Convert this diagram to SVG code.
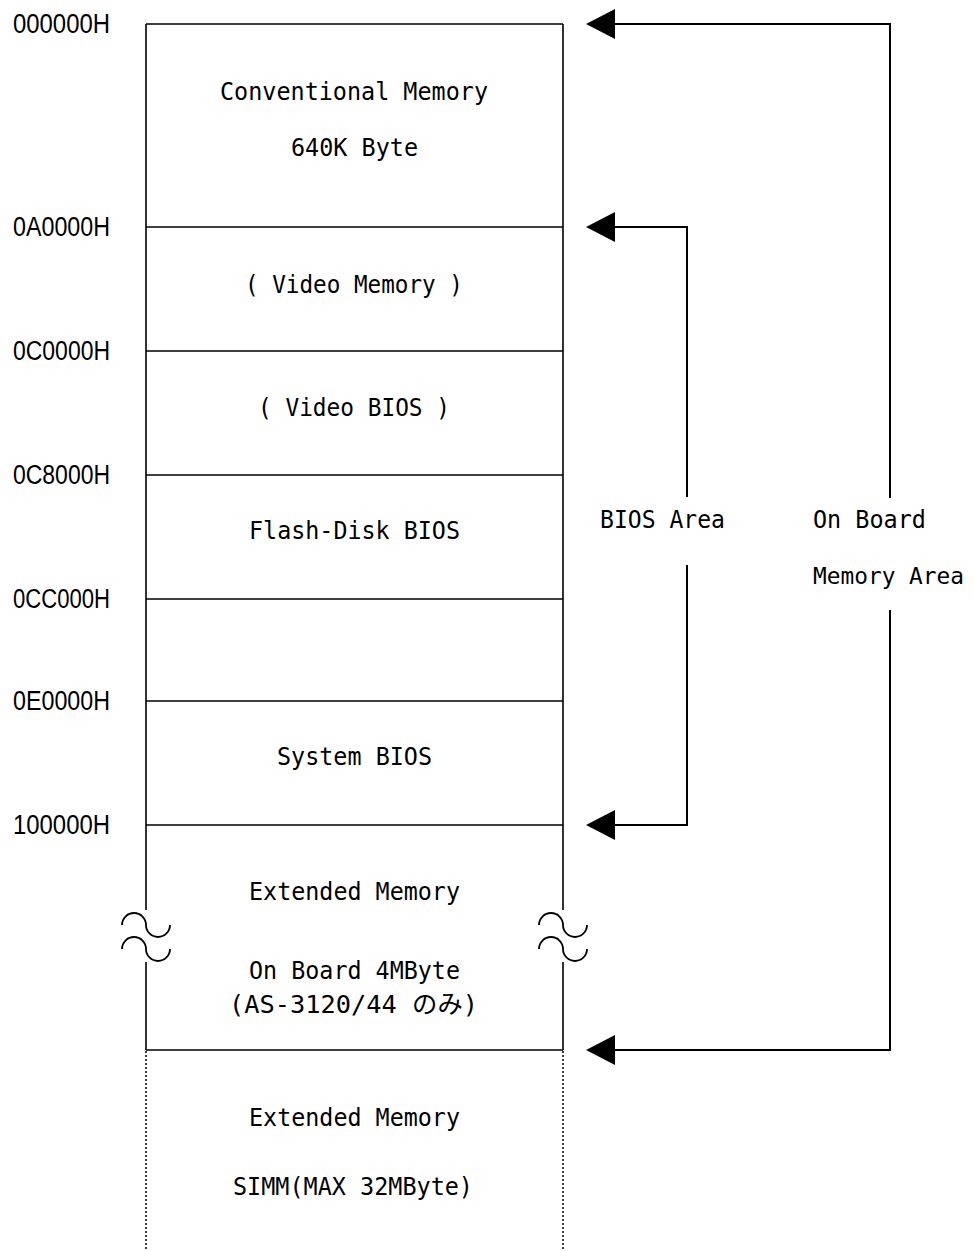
<svg xmlns="http://www.w3.org/2000/svg" width="974" height="1251" viewBox="0 0 974 1251">
<style>
.box{fill:none;stroke:#000;stroke-width:1.6}
.dot{fill:none;stroke:#000;stroke-width:1.5;stroke-dasharray:2 2}
.con{fill:none;stroke:#000;stroke-width:2}
.wave{fill:none;stroke:#000;stroke-width:1.8}
.head{fill:#000}
.addr{font-family:"Liberation Sans",Arial,sans-serif;font-size:27px;fill:#000}
.t{font-family:"DejaVu Sans Mono","Noto Sans CJK JP",monospace;font-size:25.5px;fill:#000}
</style>
<rect width="974" height="1251" fill="#fff"/>
<g id="addresses">
<text class="addr" x="13" y="33" textLength="97" lengthAdjust="spacingAndGlyphs">000000H</text>
<text class="addr" x="13" y="236" textLength="97" lengthAdjust="spacingAndGlyphs">0A0000H</text>
<text class="addr" x="13" y="360" textLength="97" lengthAdjust="spacingAndGlyphs">0C0000H</text>
<text class="addr" x="13" y="484" textLength="97" lengthAdjust="spacingAndGlyphs">0C8000H</text>
<text class="addr" x="13" y="608" textLength="97" lengthAdjust="spacingAndGlyphs">0CC000H</text>
<text class="addr" x="13" y="710" textLength="97" lengthAdjust="spacingAndGlyphs">0E0000H</text>
<text class="addr" x="13" y="834" textLength="97" lengthAdjust="spacingAndGlyphs">100000H</text>
</g>
<g id="memory-map">
<path class="box" d="M146,24 H563 M146,24 V910 M146,962 V1050 M563,24 V910 M563,962 V1050 M146,1050 H563"/>
<path class="box" d="M146,227 H563 M146,351 H563 M146,475 H563 M146,599 H563 M146,701 H563 M146,825 H563"/>
<path class="dot" d="M146,1051 V1251 M563,1051 V1251"/>
<path class="wave" d="M122,925 A12,12 0 0 1 146,925 A12,12 0 0 0 170,925 M122,949 A12,12 0 0 1 146,949 A12,12 0 0 0 170,949"/>
<path class="wave" d="M539,925 A12,12 0 0 1 563,925 A12,12 0 0 0 587,925 M539,949 A12,12 0 0 1 563,949 A12,12 0 0 0 587,949"/>
</g>
<g id="conventional">
<text class="t" x="220" y="100" textLength="268" lengthAdjust="spacingAndGlyphs">Conventional Memory</text>
<text class="t" x="291" y="156" textLength="127" lengthAdjust="spacingAndGlyphs">640K Byte</text>
</g>
<g id="video-memory"><text class="t" x="245" y="293" textLength="218" lengthAdjust="spacingAndGlyphs">( Video Memory )</text></g>
<g id="video-bios"><text class="t" x="258" y="416" textLength="192" lengthAdjust="spacingAndGlyphs">( Video BIOS )</text></g>
<g id="flash-bios"><text class="t" x="249" y="539" textLength="211" lengthAdjust="spacingAndGlyphs">Flash-Disk BIOS</text></g>
<g id="system-bios"><text class="t" x="277" y="765" textLength="155" lengthAdjust="spacingAndGlyphs">System BIOS</text></g>
<g id="extended-onboard">
<text class="t" x="249" y="900" textLength="211" lengthAdjust="spacingAndGlyphs">Extended Memory</text>
<text class="t" x="249" y="979" textLength="211" lengthAdjust="spacingAndGlyphs">On Board 4MByte</text>
<text class="t" x="229" y="1013" textLength="249" lengthAdjust="spacingAndGlyphs">(AS-3120/44 のみ)</text>
</g>
<g id="extended-simm">
<text class="t" x="249" y="1126" textLength="211" lengthAdjust="spacingAndGlyphs">Extended Memory</text>
<text class="t" x="233" y="1195" textLength="240" lengthAdjust="spacingAndGlyphs">SIMM(MAX 32MByte)</text>
</g>
<g id="bios-area-label"><text class="t" x="600" y="528" textLength="125" lengthAdjust="spacingAndGlyphs">BIOS Area</text></g>
<g id="onboard-area-label">
<text class="t" x="813" y="528" textLength="113" lengthAdjust="spacingAndGlyphs">On Board</text>
<text class="t" x="813" y="584" style="font-size:23px" textLength="151" lengthAdjust="spacingAndGlyphs">Memory Area</text>
</g>
<g id="connectors">
<path class="con" d="M615,227 H687 V497 M687,565 V825 H615"/>
<path class="con" d="M615,24 H890 V498 M890,610 V1050 H615"/>
<polygon class="head" points="586,24 615,9 615,39"/>
<polygon class="head" points="586,227 615,212 615,242"/>
<polygon class="head" points="586,825 615,810 615,840"/>
<polygon class="head" points="586,1050 615,1035 615,1065"/>
</g>
</svg>
